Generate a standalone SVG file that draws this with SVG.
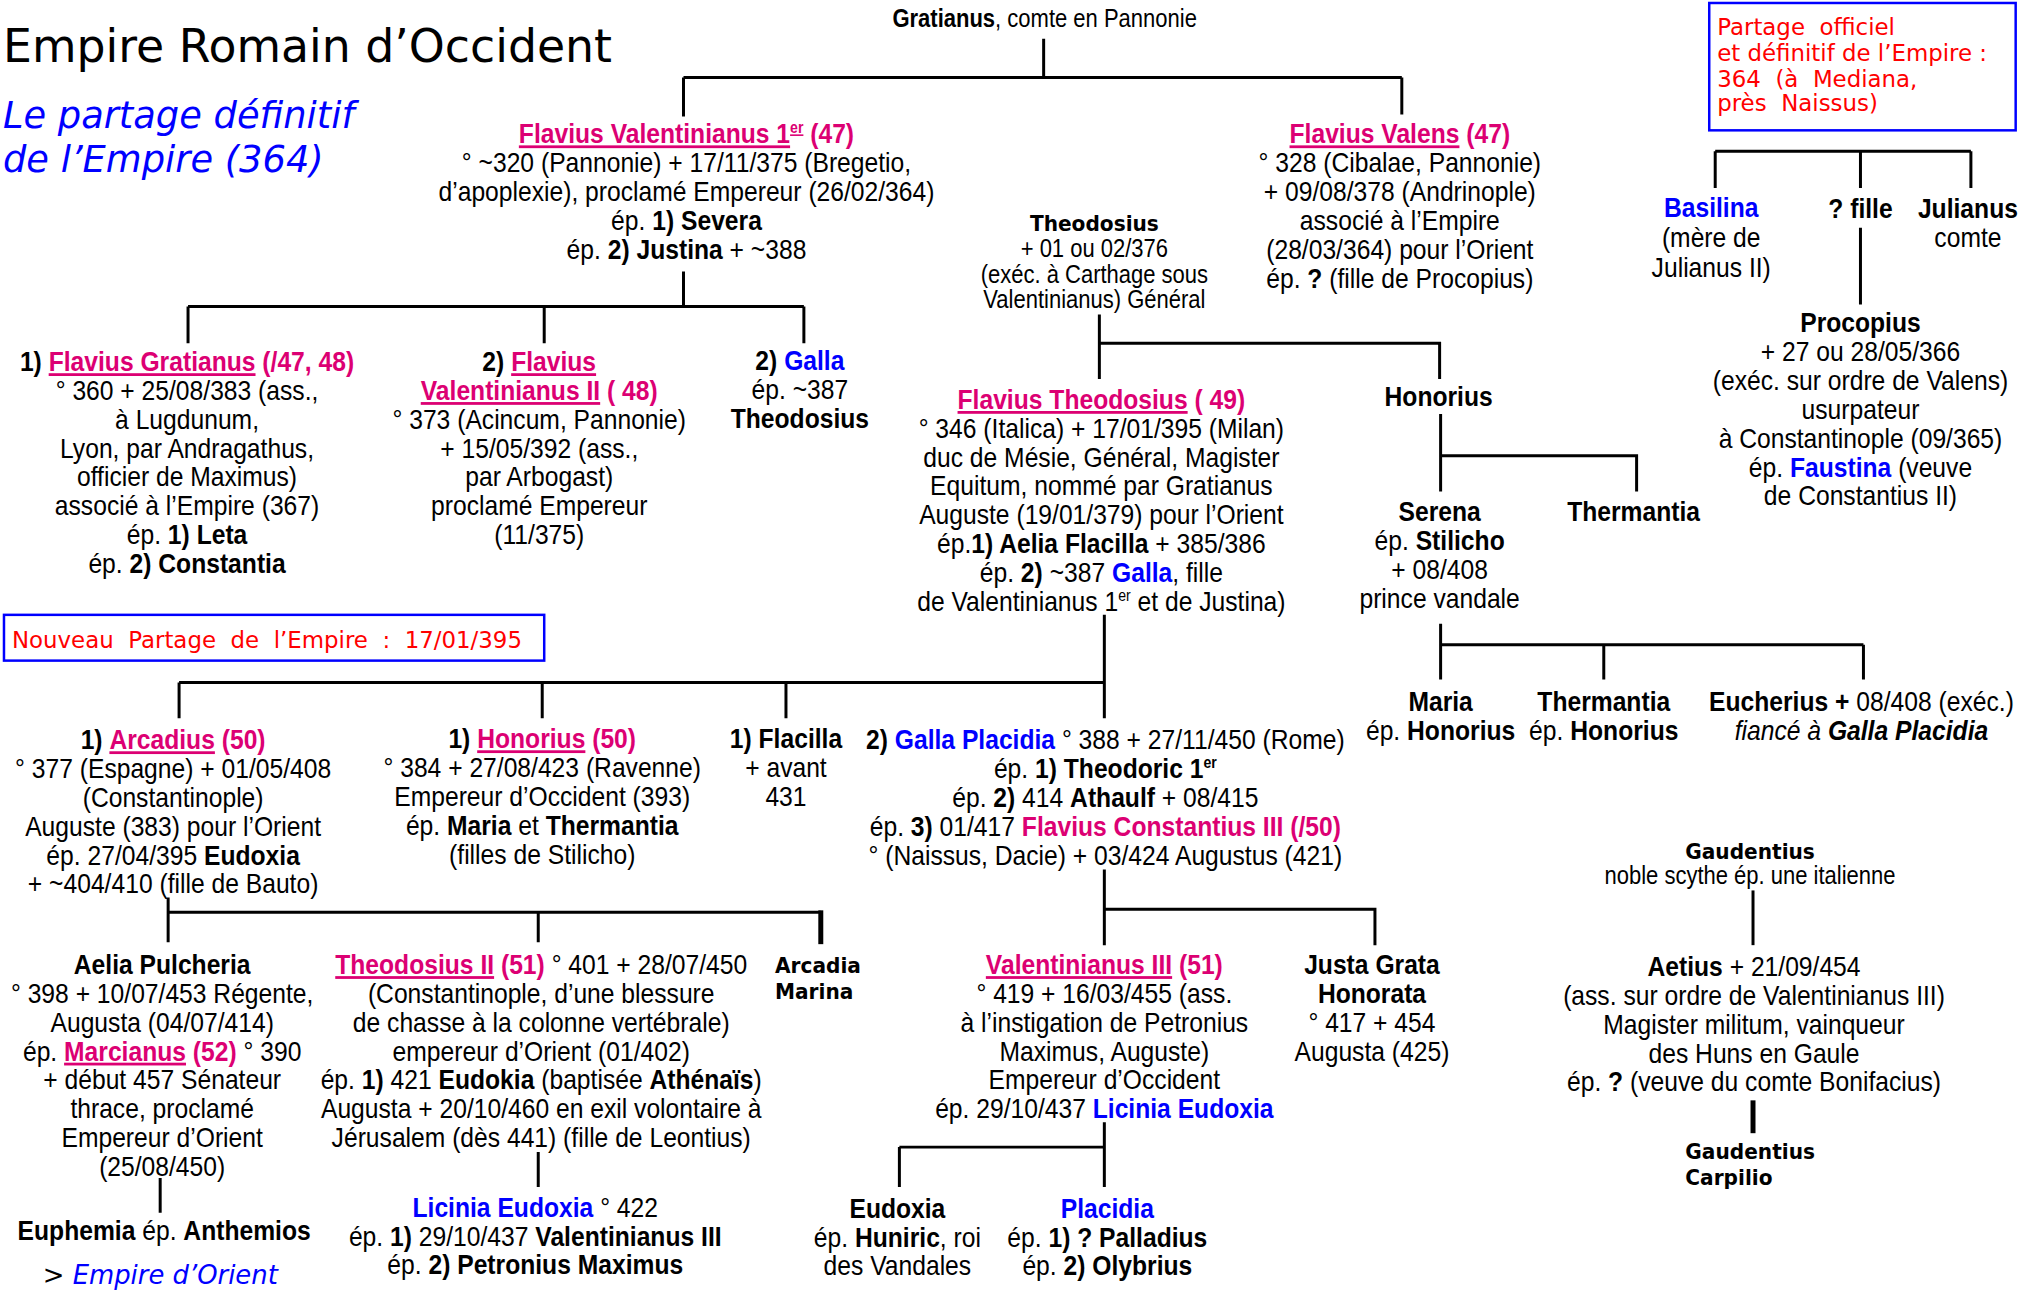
<svg xmlns="http://www.w3.org/2000/svg" width="2030" height="1291" viewBox="0 0 2030 1291">
<style>
.t{font-family:"Liberation Sans",Arial,sans-serif;font-size:28px;fill:#000;text-anchor:middle}
.s{font-size:25px}
.b{font-weight:bold}
.p{fill:#DC0073}
.u{text-decoration:underline}
.bl{fill:#0000FF}
.i{font-style:italic}
.v{font-family:"DejaVu Sans",sans-serif;font-weight:bold;font-size:22px;fill:#000}
.red{font-family:"DejaVu Sans",sans-serif;font-size:23px;fill:#FF0000}
.ln{stroke:#000;stroke-width:3;fill:none}
.thk{stroke:#000;stroke-width:5;fill:none}
.box{fill:none;stroke:#0000FF;stroke-width:2.5}
</style>
<rect width="2030" height="1291" fill="#fff"/>
<g transform="scale(0.9949)">

<g id="title">
<text x="3" y="62" font-family="DejaVu Sans" font-size="46" fill="#000">Empire Romain d’Occident</text>
<text x="3" y="129" font-family="DejaVu Sans" font-size="37" font-style="italic" fill="#0000FF">Le partage définitif</text>
<text x="3" y="173" font-family="DejaVu Sans" font-size="37" font-style="italic" fill="#0000FF">de l’Empire (364)</text>
</g>

<g id="box-partage-364">
<rect class="box" x="1718" y="3" width="308" height="128"/>
<text class="red" x="1726" y="35" xml:space="preserve">Partage  officiel</text>
<text class="red" x="1726" y="61" xml:space="preserve">et définitif de l’Empire :</text>
<text class="red" x="1726" y="87" xml:space="preserve">364  (à  Mediana,</text>
<text class="red" x="1726" y="112" xml:space="preserve">près  Naissus)</text>
</g>

<g id="box-partage-395">
<rect class="box" x="4" y="618" width="543" height="46"/>
<text class="red" x="12" y="651" xml:space="preserve">Nouveau  Partage  de  l’Empire  :  17/01/395</text>
</g>

<g id="connectors">
<path class="ln" d="M1049 39V78M687 78H1409M687 78V117M1409 78V115"/>
<path class="ln" d="M687 273V308M189 308H808M189 308V345M547 308V345M808 308V345"/>
<path class="ln" d="M1105 316V381M1105 345H1447V381"/>
<path class="ln" d="M1448 416V494M1448 458H1645V494"/>
<path class="ln" d="M1448 627V683M1448 648H1873M1612 648V683M1873 648V683"/>
<path class="ln" d="M1724 152H1981M1724 152V189M1870 152V189M1981 152V189M1870 229V306"/>
<path class="ln" d="M1110 618V722M180 686H1110M180 686V722M545 686V722M790 686V722"/>
<path class="ln" d="M169 902V947M169 917H825M541 917V947"/>
<path class="thk" d="M825 915V949"/>
<path class="ln" d="M161 1184V1219M541 1158V1193"/>
<path class="ln" d="M1110 874V950M1110 914H1382V950"/>
<path class="ln" d="M1110 1128V1193M904 1153H1110M904 1153V1193"/>
<path class="ln" d="M1762 895V950"/>
<path class="thk" d="M1762 1106V1139"/>
</g>

<g id="gratianus"><text class="t s" transform="matrix(0.885 0 0 1 120.75 0)" x="1050" y="27"><tspan class="b">Gratianus</tspan>, comte en Pannonie</text></g>

<g id="valentinianus-1"><text class="t" transform="matrix(0.885 0 0 1 79.35 0)" x="690"><tspan x="690" y="144"><tspan class="b p u">Flavius Valentinianus 1<tspan dy="-10" font-size="16">er</tspan></tspan><tspan class="b p" dy="10"> (47)</tspan></tspan><tspan x="690" y="173">° ~320 (Pannonie) + 17/11/375 (Bregetio,</tspan><tspan x="690" y="202">d’apoplexie), proclamé Empereur (26/02/364)</tspan><tspan x="690" y="231">ép. <tspan class="b">1) Severa</tspan></tspan><tspan x="690" y="260">ép. <tspan class="b">2) Justina</tspan> + ~388</tspan></text></g>

<g id="valens"><text class="t" transform="matrix(0.885 0 0 1 161.81 0)" x="1407"><tspan x="1407" y="144"><tspan class="b p u">Flavius Valens</tspan><tspan class="b p"> (47)</tspan></tspan><tspan x="1407" y="173">° 328 (Cibalae, Pannonie)</tspan><tspan x="1407" y="202">+ 09/08/378 (Andrinople)</tspan><tspan x="1407" y="231">associé à l’Empire</tspan><tspan x="1407" y="260">(28/03/364) pour l’Orient</tspan><tspan x="1407" y="289">ép. <tspan class="b">?</tspan> (fille de Procopius)</tspan></text></g>

<g id="theodosius-sr"><text class="v" transform="matrix(0.92 0 0 1 88 0)" x="1100" y="232" text-anchor="middle">Theodosius</text><text class="t s" transform="matrix(0.885 0 0 1 126.5 0)" x="1100"><tspan x="1100" y="258">+ 01 ou 02/376</tspan><tspan x="1100" y="284">(exéc. à Carthage sous</tspan><tspan x="1100" y="310">Valentinianus) Général</tspan></text></g>

<g id="basilina"><text class="t" transform="matrix(0.885 0 0 1 197.8 0)" x="1720"><tspan x="1720" y="218" class="b bl">Basilina</tspan><tspan x="1720" y="248">(mère de</tspan><tspan x="1720" y="278">Julianus II)</tspan></text></g>
<g id="fille"><text class="t b" transform="matrix(0.885 0 0 1 215.05 0)" x="1870" y="219">? fille</text></g>
<g id="julianus"><text class="t" transform="matrix(0.885 0 0 1 227.47 0)" x="1978"><tspan x="1978" y="219" class="b">Julianus</tspan><tspan x="1978" y="248">comte</tspan></text></g>

<g id="procopius"><text class="t" transform="matrix(0.885 0 0 1 215.05 0)" x="1870"><tspan x="1870" y="334" class="b">Procopius</tspan><tspan x="1870" y="363">+ 27 ou 28/05/366</tspan><tspan x="1870" y="392">(exéc. sur ordre de Valens)</tspan><tspan x="1870" y="421">usurpateur</tspan><tspan x="1870" y="450">à Constantinople (09/365)</tspan><tspan x="1870" y="479">ép. <tspan class="b bl">Faustina</tspan> (veuve</tspan><tspan x="1870" y="508">de Constantius II)</tspan></text></g>

<g id="flavius-gratianus"><text class="t" transform="matrix(0.885 0 0 1 21.62 0)" x="188"><tspan x="188" y="373"><tspan class="b">1) </tspan><tspan class="b p u">Flavius Gratianus</tspan><tspan class="b p"> (/47, 48)</tspan></tspan><tspan x="188" y="402">° 360 + 25/08/383 (ass.,</tspan><tspan x="188" y="431">à Lugdunum,</tspan><tspan x="188" y="460">Lyon, par Andragathus,</tspan><tspan x="188" y="489">officier de Maximus)</tspan><tspan x="188" y="518">associé à l’Empire (367)</tspan><tspan x="188" y="547">ép. <tspan class="b">1) Leta</tspan></tspan><tspan x="188" y="576">ép. <tspan class="b">2) Constantia</tspan></tspan></text></g>

<g id="valentinianus-2"><text class="t" transform="matrix(0.885 0 0 1 62.33 0)" x="542"><tspan x="542" y="373"><tspan class="b">2) </tspan><tspan class="b p u">Flavius</tspan></tspan><tspan x="542" y="402"><tspan class="b p u">Valentinianus II</tspan><tspan class="b p"> ( 48)</tspan></tspan><tspan x="542" y="431">° 373 (Acincum, Pannonie)</tspan><tspan x="542" y="460">+ 15/05/392 (ass.,</tspan><tspan x="542" y="489">par Arbogast)</tspan><tspan x="542" y="518">proclamé Empereur</tspan><tspan x="542" y="547">(11/375)</tspan></text></g>

<g id="galla"><text class="t" transform="matrix(0.885 0 0 1 92.46 0)" x="804"><tspan x="804" y="372"><tspan class="b">2) </tspan><tspan class="b bl">Galla</tspan></tspan><tspan x="804" y="401">ép. ~387</tspan><tspan x="804" y="430" class="b">Theodosius</tspan></text></g>

<g id="flavius-theodosius"><text class="t" transform="matrix(0.885 0 0 1 127.31 0)" x="1107"><tspan x="1107" y="411"><tspan class="b p u">Flavius Theodosius</tspan><tspan class="b p"> ( 49)</tspan></tspan><tspan x="1107" y="440">° 346 (Italica) + 17/01/395 (Milan)</tspan><tspan x="1107" y="469">duc de Mésie, Général, Magister</tspan><tspan x="1107" y="498">Equitum, nommé par Gratianus</tspan><tspan x="1107" y="527">Auguste (19/01/379) pour l’Orient</tspan><tspan x="1107" y="556">ép.<tspan class="b">1) Aelia Flacilla</tspan> + 385/386</tspan><tspan x="1107" y="585">ép. <tspan class="b">2)</tspan> ~387 <tspan class="b bl">Galla</tspan>, fille</tspan><tspan x="1107" y="614">de Valentinianus 1<tspan dy="-10" font-size="16">er</tspan><tspan dy="10"> et de Justina)</tspan></tspan></text></g>

<g id="honorius-sr"><text class="t b" transform="matrix(0.885 0 0 1 166.29 0)" x="1446" y="408">Honorius</text></g>
<g id="serena"><text class="t" transform="matrix(0.885 0 0 1 166.41 0)" x="1447"><tspan x="1447" y="524" class="b">Serena</tspan><tspan x="1447" y="553">ép. <tspan class="b">Stilicho</tspan></tspan><tspan x="1447" y="582">+ 08/408</tspan><tspan x="1447" y="611">prince vandale</tspan></text></g>
<g id="thermantia-sr"><text class="t b" transform="matrix(0.885 0 0 1 188.83 0)" x="1642" y="524">Thermantia</text></g>

<g id="maria"><text class="t" transform="matrix(0.885 0 0 1 166.52 0)" x="1448"><tspan x="1448" y="715" class="b">Maria</tspan><tspan x="1448" y="744">ép. <tspan class="b">Honorius</tspan></tspan></text></g>
<g id="thermantia"><text class="t" transform="matrix(0.885 0 0 1 185.38 0)" x="1612"><tspan x="1612" y="715" class="b">Thermantia</tspan><tspan x="1612" y="744">ép. <tspan class="b">Honorius</tspan></tspan></text></g>
<g id="eucherius"><text class="t" transform="matrix(0.885 0 0 1 215.17 0)" x="1871"><tspan x="1871" y="715"><tspan class="b">Eucherius +</tspan> 08/408 (exéc.)</tspan><tspan x="1871" y="744" class="i">fiancé à <tspan class="b">Galla Placidia</tspan></tspan></text></g>

<g id="arcadius"><text class="t" transform="matrix(0.885 0 0 1 20.01 0)" x="174"><tspan x="174" y="753"><tspan class="b">1) </tspan><tspan class="b p u">Arcadius</tspan><tspan class="b p">  (50)</tspan></tspan><tspan x="174" y="782">° 377 (Espagne) + 01/05/408</tspan><tspan x="174" y="811">(Constantinople)</tspan><tspan x="174" y="840">Auguste (383) pour l’Orient</tspan><tspan x="174" y="869">ép. 27/04/395 <tspan class="b">Eudoxia</tspan></tspan><tspan x="174" y="898">+ ~404/410 (fille de Bauto)</tspan></text></g>

<g id="honorius"><text class="t" transform="matrix(0.885 0 0 1 62.68 0)" x="545"><tspan x="545" y="752"><tspan class="b">1) </tspan><tspan class="b p u">Honorius</tspan><tspan class="b p">  (50)</tspan></tspan><tspan x="545" y="781">° 384 + 27/08/423 (Ravenne)</tspan><tspan x="545" y="810">Empereur d’Occident (393)</tspan><tspan x="545" y="839">ép. <tspan class="b">Maria</tspan> et <tspan class="b">Thermantia</tspan></tspan><tspan x="545" y="868">(filles de Stilicho)</tspan></text></g>

<g id="flacilla"><text class="t" transform="matrix(0.885 0 0 1 90.85 0)" x="790"><tspan x="790" y="752" class="b">1) Flacilla</tspan><tspan x="790" y="781">+ avant</tspan><tspan x="790" y="810">431</tspan></text></g>

<g id="galla-placidia"><text class="t" transform="matrix(0.885 0 0 1 127.77 0)" x="1111"><tspan x="1111" y="753"><tspan class="b">2) </tspan><tspan class="b bl">Galla Placidia</tspan> ° 388 + 27/11/450 (Rome)</tspan><tspan x="1111" y="782">ép. <tspan class="b">1) Theodoric 1<tspan dy="-10" font-size="16">er</tspan></tspan></tspan><tspan x="1111" y="811">ép. <tspan class="b">2)</tspan> 414 <tspan class="b">Athaulf</tspan> + 08/415</tspan><tspan x="1111" y="840">ép. <tspan class="b">3)</tspan> 01/417 <tspan class="b p">Flavius Constantius III (/50)</tspan></tspan><tspan x="1111" y="869">° (Naissus, Dacie) + 03/424 Augustus (421)</tspan></text></g>

<g id="aelia-pulcheria"><text class="t" transform="matrix(0.885 0 0 1 18.75 0)" x="163"><tspan x="163" y="979" class="b">Aelia Pulcheria</tspan><tspan x="163" y="1008">° 398 + 10/07/453 Régente,</tspan><tspan x="163" y="1037">Augusta (04/07/414)</tspan><tspan x="163" y="1066">ép. <tspan class="b p u">Marcianus</tspan><tspan class="b p"> (52)</tspan> ° 390</tspan><tspan x="163" y="1095">+ début 457 Sénateur</tspan><tspan x="163" y="1124">thrace, proclamé</tspan><tspan x="163" y="1153">Empereur d’Orient</tspan><tspan x="163" y="1182">(25/08/450)</tspan></text></g>

<g id="euphemia"><text class="t" transform="matrix(0.885 0 0 1 18.98 0)" x="165" y="1246"><tspan class="b">Euphemia</tspan> ép. <tspan class="b">Anthemios</tspan></text></g>
<g id="empire-orient"><text x="43" y="1291" font-family="DejaVu Sans" font-size="26" fill="#000">&gt; <tspan fill="#0000FF" font-style="italic">Empire d’Orient</tspan></text></g>

<g id="theodosius-2"><text class="t" transform="matrix(0.885 0 0 1 62.56 0)" x="544"><tspan x="544" y="979"><tspan class="b p u">Theodosius II</tspan><tspan class="b p">  (51)</tspan> ° 401 + 28/07/450</tspan><tspan x="544" y="1008">(Constantinople, d’une blessure</tspan><tspan x="544" y="1037">de chasse à la colonne vertébrale)</tspan><tspan x="544" y="1066">empereur d’Orient (01/402)</tspan><tspan x="544" y="1095">ép. <tspan class="b">1)</tspan> 421 <tspan class="b">Eudokia</tspan> (baptisée <tspan class="b">Athénaïs</tspan>)</tspan><tspan x="544" y="1124">Augusta + 20/10/460 en exil volontaire à</tspan><tspan x="544" y="1153">Jérusalem (dès 441) (fille de Leontius)</tspan></text></g>

<g id="licinia-eudoxia"><text class="t" transform="matrix(0.885 0 0 1 61.87 0)" x="538"><tspan x="538" y="1223"><tspan class="b bl">Licinia Eudoxia</tspan> ° 422</tspan><tspan x="538" y="1252">ép. <tspan class="b">1)</tspan> 29/10/437 <tspan class="b">Valentinianus III</tspan></tspan><tspan x="538" y="1281">ép. <tspan class="b">2) Petronius Maximus</tspan></tspan></text></g>

<g id="arcadia-marina"><text class="v" transform="matrix(0.92 0 0 1 62.32 0)" x="779" y="978">Arcadia</text><text class="v" transform="matrix(0.92 0 0 1 62.32 0)" x="779" y="1004">Marina</text></g>

<g id="valentinianus-3"><text class="t" transform="matrix(0.885 0 0 1 127.65 0)" x="1110"><tspan x="1110" y="979"><tspan class="b p u">Valentinianus III</tspan><tspan class="b p">  (51)</tspan></tspan><tspan x="1110" y="1008">° 419 + 16/03/455 (ass.</tspan><tspan x="1110" y="1037">à l’instigation de Petronius</tspan><tspan x="1110" y="1066">Maximus, Auguste)</tspan><tspan x="1110" y="1095">Empereur d’Occident</tspan><tspan x="1110" y="1124">ép. 29/10/437 <tspan class="b bl">Licinia Eudoxia</tspan></tspan></text></g>

<g id="justa-grata"><text class="t" transform="matrix(0.885 0 0 1 158.59 0)" x="1379"><tspan x="1379" y="979" class="b">Justa Grata</tspan><tspan x="1379" y="1008" class="b">Honorata</tspan><tspan x="1379" y="1037">° 417 + 454</tspan><tspan x="1379" y="1066">Augusta (425)</tspan></text></g>

<g id="eudoxia"><text class="t" transform="matrix(0.885 0 0 1 103.73 0)" x="902"><tspan x="902" y="1224" class="b">Eudoxia</tspan><tspan x="902" y="1253">ép. <tspan class="b">Huniric</tspan>, roi</tspan><tspan x="902" y="1282">des Vandales</tspan></text></g>
<g id="placidia"><text class="t" transform="matrix(0.885 0 0 1 128 0)" x="1113"><tspan x="1113" y="1224" class="b bl">Placidia</tspan><tspan x="1113" y="1253">ép. <tspan class="b">1) ? Palladius</tspan></tspan><tspan x="1113" y="1282">ép. <tspan class="b">2) Olybrius</tspan></tspan></text></g>

<g id="gaudentius-sr"><text class="v" transform="matrix(0.92 0 0 1 140.72 0)" x="1759" y="863" text-anchor="middle">Gaudentius</text><text class="t s" transform="matrix(0.885 0 0 1 202.29 0)" x="1759" y="889">noble scythe ép. une italienne</text></g>

<g id="aetius"><text class="t" transform="matrix(0.885 0 0 1 202.75 0)" x="1763"><tspan x="1763" y="981"><tspan class="b">Aetius</tspan> + 21/09/454</tspan><tspan x="1763" y="1010">(ass. sur ordre de Valentinianus III)</tspan><tspan x="1763" y="1039">Magister militum, vainqueur</tspan><tspan x="1763" y="1068">des Huns en Gaule</tspan><tspan x="1763" y="1097">ép. <tspan class="b">?</tspan> (veuve du comte Bonifacius)</tspan></text></g>

<g id="gaudentius-carpilio"><text class="v" transform="matrix(0.92 0 0 1 135.52 0)" x="1694" y="1165">Gaudentius</text><text class="v" transform="matrix(0.92 0 0 1 135.52 0)" x="1694" y="1191">Carpilio</text></g>
</g>
</svg>
